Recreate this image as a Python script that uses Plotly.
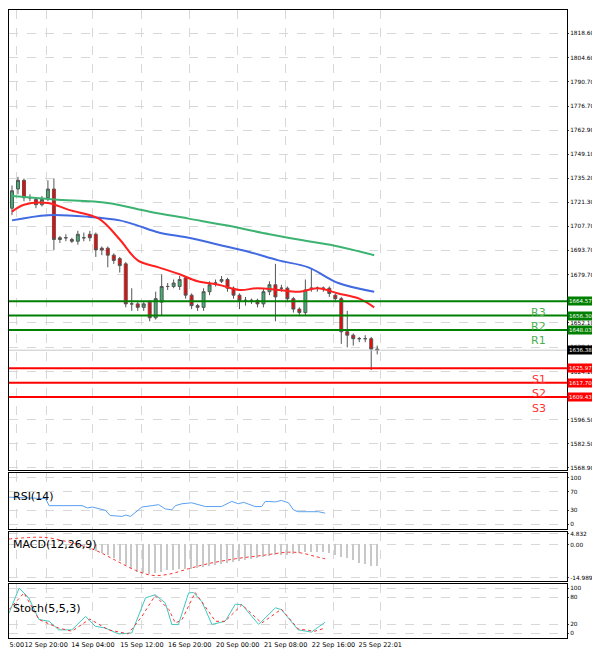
import plotly.graph_objects as go

# candles: open, close, high, low (one every 4h)
opens = [1718, 1729, 1734, 1724, 1723, 1720, 1724, 1729, 1700, 1701, 1700, 1699, 1701, 1703, 1703, 1695,
         1695, 1691, 1689, 1686, 1663, 1663, 1661, 1664, 1655, 1664, 1673, 1673, 1673, 1678, 1668, 1662,
         1661, 1670, 1675, 1676, 1677, 1672, 1668, 1665, 1665, 1665, 1663, 1670, 1674, 1672, 1672, 1666,
         1660, 1658, 1672, 1672, 1672, 1672, 1668, 1666, 1647, 1645, 1643, 1643, 1643, 1637]
closes = [1728, 1734, 1724, 1724, 1720, 1723, 1729, 1700, 1701, 1701, 1699, 1703, 1701, 1701, 1694, 1694,
          1691, 1688, 1685, 1663, 1663, 1661, 1663, 1655, 1666, 1673, 1673, 1675, 1677, 1668, 1662, 1661,
          1670, 1674, 1675, 1677, 1672, 1668, 1665, 1665, 1665, 1663, 1670, 1674, 1667, 1672, 1666, 1660,
          1658, 1671, 1672, 1672, 1672, 1669, 1666, 1647, 1645, 1643, 1643, 1643, 1637, 1636.4]
highs = [1731, 1736, 1735, 1726, 1724, 1725, 1734, 1735, 1702, 1703, 1701, 1705, 1704, 1705, 1704, 1696,
         1696, 1692, 1690, 1687, 1672, 1664, 1664, 1665, 1670, 1680, 1675, 1677, 1679, 1679, 1669, 1663,
         1672, 1676, 1677, 1679, 1678, 1673, 1669, 1667, 1666, 1666, 1672, 1676, 1686, 1674, 1673, 1667,
         1661, 1677, 1683, 1673, 1673, 1673, 1669, 1667, 1659, 1646, 1644, 1645, 1644, 1639]
lows = [1714, 1726, 1722, 1722, 1718, 1719, 1722, 1694, 1698, 1699, 1698, 1697, 1699, 1699, 1690, 1691,
        1684, 1686, 1681, 1661, 1659, 1659, 1659, 1653, 1654, 1656, 1671, 1672, 1671, 1666, 1660, 1659,
        1659, 1668, 1673, 1675, 1670, 1666, 1660, 1662, 1663, 1661, 1661, 1668, 1653, 1670, 1664, 1658,
        1656, 1656, 1670, 1670, 1670, 1667, 1664, 1640, 1638, 1639, 1641, 1641, 1625, 1634]

# moving averages read at sampled candle indices
ma_red_x = [0, 2, 6, 9.5, 14.5, 18, 21, 24.5, 28, 31, 34.5, 38, 41, 44.5, 48, 51, 54.5, 58, 60.5]
ma_red = [1716, 1720, 1721, 1717, 1712, 1700, 1688, 1684, 1680, 1676, 1674, 1671, 1672, 1671, 1670, 1672, 1669, 1666, 1661]
ma_blue_x = [0, 6, 13, 18, 21, 24.5, 29.5, 34.5, 39.5, 44.5, 49.5, 54.5, 60.5]
ma_blue = [1711, 1714, 1713, 1711, 1708, 1704, 1701, 1697, 1693, 1688, 1684, 1675, 1670]
ma_green_x = [0, 7, 16, 23, 29.5, 36, 43, 49.5, 54.5, 60.5]
ma_green = [1725, 1723, 1721, 1716, 1712, 1708, 1703, 1699, 1696, 1691]

levels = [1664.57, 1656.30, 1648.03, 1625.97, 1617.70, 1609.43]
level_names = ["R3", "R2", "R1", "S1", "S2", "S3"]
last_price = 1636.38

price_ticks = [1832.50, 1818.60, 1804.60, 1790.70, 1776.70, 1762.90, 1749.10, 1735.20, 1721.30, 1707.70,
               1693.70, 1679.70, 1652.10, 1638.10, 1624.10, 1596.50, 1582.50, 1568.90]

rsi_x = [-0.5, 5.6, 6.2, 11.7, 12.6, 13.4, 15.6, 16.4, 18.4, 19, 19.8, 20.6, 21.7, 23.4, 24.5, 25.6, 26.7,
         27.3, 28.4, 30, 32.3, 35, 36.7, 37.8, 38.7, 40.6, 41.7, 42.3, 44, 45, 46.2, 47, 47.8, 51.2, 52.3]
rsi = [58, 55, 40, 40, 35, 37, 30, 19, 17, 20, 17, 26, 37, 40, 42, 33, 31, 40, 44, 46, 38, 38, 49, 44,
       47, 38, 38, 49, 48, 51, 46, 31, 27, 27, 24]

macd_hist = [-0.3, -0.3, -0.4, -0.4, -0.4, -0.5, -0.5, -0.6, -0.8, -1.0, -1.3, -1.6, -2.0, -2.6, -3.2,
             -4.0, -5.0, -6.5, -7.5, -9.5, -11.0, -12.5, -13.3, -13.5, -13.2, -12.6, -12.0, -11.7,
             -11.5, -11.4, -11.3, -11.0, -10.4, -10.0, -9.6, -9.0, -8.6, -8.0, -7.6, -7.2, -6.8, -6.3,
             -5.8, -5.5, -5.2, -5.0, -4.8, -4.5, -4.2, -3.8, -3.5, -3.5, -3.8, -4.2, -5.0, -5.7, -6.4,
             -7.3, -8.5, -9.3, -9.8, -10.0]
macd_sig_x = [-0.5, 4, 6.2, 10.6, 14, 17.3, 20.6, 23.4, 26.2, 29.5, 32.8, 37.3, 41.7, 46.2, 48.4, 50.6, 52.3]
macd_sig = [2.5, 3.3, 3.0, 0.3, -2.7, -7.2, -11.7, -14.0, -13.5, -11.0, -8.7, -6.5, -5.0, -3.5, -3.9, -5.4, -6.5]

st_x = [-0.5, 1.2, 2.8, 4.5, 6.2, 7.8, 10, 12.3, 13.9, 15.6, 17.8, 20, 22.3, 23.9, 25.6, 26.7, 27.8,
        29.5, 30.3, 31.7, 33.4, 35.6, 37.3, 38.4, 41.2, 44, 45, 47.8, 50, 52.3]
stoch_main = [44, 100, 78, 30, 26, 7, 7, 37, 15, 11, -2, 0, 78, 85, 67, 19, 19, 89, 90, 70, 19, 26, 64,
              63, 19, 56, 52, 7, 2, 24]
st_sig_x = [-0.5, 2, 4.5, 7.8, 10, 13, 16.1, 19.4, 21.7, 23.9, 26.2, 27.3, 28.4, 30.6, 34, 35.6, 38.4,
            41.7, 45, 47.8, 50.6, 52.3]
stoch_sig = [52, 89, 30, 11, 4, 31, 7, -2, 37, 83, 52, 22, 30, 90, 26, 26, 63, 22, 53, 9, 4, 11]

xtick_vals = [0.8, 5.7, 13.5, 21.7, 29.7, 37.7, 45.7, 53.7, 61.5]
xtick_text = ["5:00", "12 Sep 20:00", "14 Sep 04:00", "15 Sep 12:00", "16 Sep 20:00",
              "20 Sep 00:00", "21 Sep 08:00", "22 Sep 16:00", "25 Sep 22:01"]

FONT = "DejaVu Sans"
idx = list(range(len(opens)))
fig = go.Figure()

fig.add_trace(go.Candlestick(
    x=idx, open=opens, high=highs, low=lows, close=closes,
    increasing=dict(fillcolor="#3cb371", line=dict(color="#555555", width=1)),
    decreasing=dict(fillcolor="#ff0000", line=dict(color="#555555", width=1)),
    whiskerwidth=0, xaxis="x", yaxis="y"))
for xs, ys, c in [(ma_green_x, ma_green, "#3cb371"), (ma_blue_x, ma_blue, "#4169e1"), (ma_red_x, ma_red, "#ff2020")]:
    fig.add_trace(go.Scatter(x=xs, y=ys, mode="lines", line=dict(color=c, width=2, shape="spline"),
                             xaxis="x", yaxis="y"))

fig.add_trace(go.Scatter(x=rsi_x, y=rsi, mode="lines", line=dict(color="#5aa0f0", width=1), xaxis="x2", yaxis="y2"))
fig.add_trace(go.Bar(x=idx, y=macd_hist, marker=dict(color="#c8c8c8", line=dict(width=0)), width=0.25, xaxis="x3", yaxis="y3"))
fig.add_trace(go.Scatter(x=macd_sig_x, y=macd_sig, mode="lines",
                         line=dict(color="#ff3030", width=1, dash="dot", shape="spline"), xaxis="x3", yaxis="y3"))
fig.add_trace(go.Scatter(x=st_x, y=stoch_main, mode="lines", line=dict(color="#40c8c0", width=1), xaxis="x4", yaxis="y4"))
fig.add_trace(go.Scatter(x=st_sig_x, y=stoch_sig, mode="lines", line=dict(color="#ff3030", width=1, dash="dot"),
                         xaxis="x4", yaxis="y4"))

shapes = []
annotations = []
for lv, name in zip(levels, level_names):
    col = "#008000" if name.startswith("R") else "#ff0000"
    lab = "#4caf50" if name.startswith("R") else "#ff3030"
    shapes.append(dict(type="line", xref="x domain", yref="y", x0=0, x1=1, y0=lv, y1=lv,
                       line=dict(color=col, width=2)))
    annotations.append(dict(xref="paper", yref="y", x=1.0, y=lv, text=f"{lv:.2f}",
                            xanchor="left", showarrow=False, bgcolor=col,
                            font=dict(color="white", size=5.5, family=FONT), borderpad=1))
    annotations.append(dict(xref="x", yref="y", x=88.0, y=lv, yshift=-11, text=name, showarrow=False,
                            font=dict(color=lab, size=11, family=FONT)))
shapes.append(dict(type="line", xref="x domain", yref="y", x0=0, x1=1, y0=last_price, y1=last_price,
                   line=dict(color="#c8c8c8", width=1)))
annotations.append(dict(xref="paper", yref="y", x=1.0, y=last_price, text=f"{last_price:.2f}",
                        xanchor="left", showarrow=False, bgcolor="black",
                        font=dict(color="white", size=5.5, family=FONT), borderpad=1))

for txt, yr, yv in [("RSI(14)", "y2", 60), ("MACD(12,26,9)", "y3", 0), ("Stoch(5,5,3)", "y4", 55)]:
    annotations.append(dict(xref="paper", yref=yr, x=0.003, y=yv, text=txt, xanchor="left",
                            showarrow=False, font=dict(size=11, color="black", family=FONT)))

grid = dict(showgrid=True, gridcolor="#d8d8d8", griddash="dash", gridwidth=1)
yax = dict(side="right", showline=True, linecolor="black", mirror=True, ticks="outside", ticklen=1,
           tickfont=dict(size=5.8, color="black", family=FONT), zeroline=False, **grid)


def xax(anchor, labels):
    d = dict(anchor=anchor, range=[-0.5, 92.7], showline=True, linecolor="black", mirror=True,
             tickvals=xtick_vals, ticks="", zeroline=False, tickangle=0,
             showticklabels=labels, **grid)
    if labels:
        d.update(ticktext=xtick_text, tickfont=dict(size=6.5, color="black", family=FONT))
    else:
        d.update(matches="x4")
    return d


fig.update_layout(
    width=592, height=641, margin=dict(l=0, r=33, t=0, b=11),
    paper_bgcolor="white", plot_bgcolor="white", showlegend=False, bargap=0,
    shapes=shapes, annotations=annotations,
    xaxis=dict(rangeslider=dict(visible=False), **xax("y", False)),
    xaxis2=xax("y2", False), xaxis3=xax("y3", False), xaxis4=xax("y4", True),
    yaxis=dict(domain=[0.268, 1], range=[1567.7, 1831.9], tickvals=price_ticks,
               ticktext=[f"{v:.2f}" for v in price_ticks], **yax),
    yaxis2=dict(domain=[0.173, 0.263], range=[-10.6, 109.9], tickvals=[0, 30, 70, 100], **yax),
    yaxis3=dict(domain=[0.090, 0.168], range=[-16.8, 5.45], tickvals=[-14.989, 0, 4.832],
                ticktext=["-14.989", "0.00", "4.832"], **yax),
    yaxis4=dict(domain=[0, 0.086], range=[-11.1, 108.9], tickvals=[0, 20, 80, 100], **yax),
)

fig.write_html("out.html")
